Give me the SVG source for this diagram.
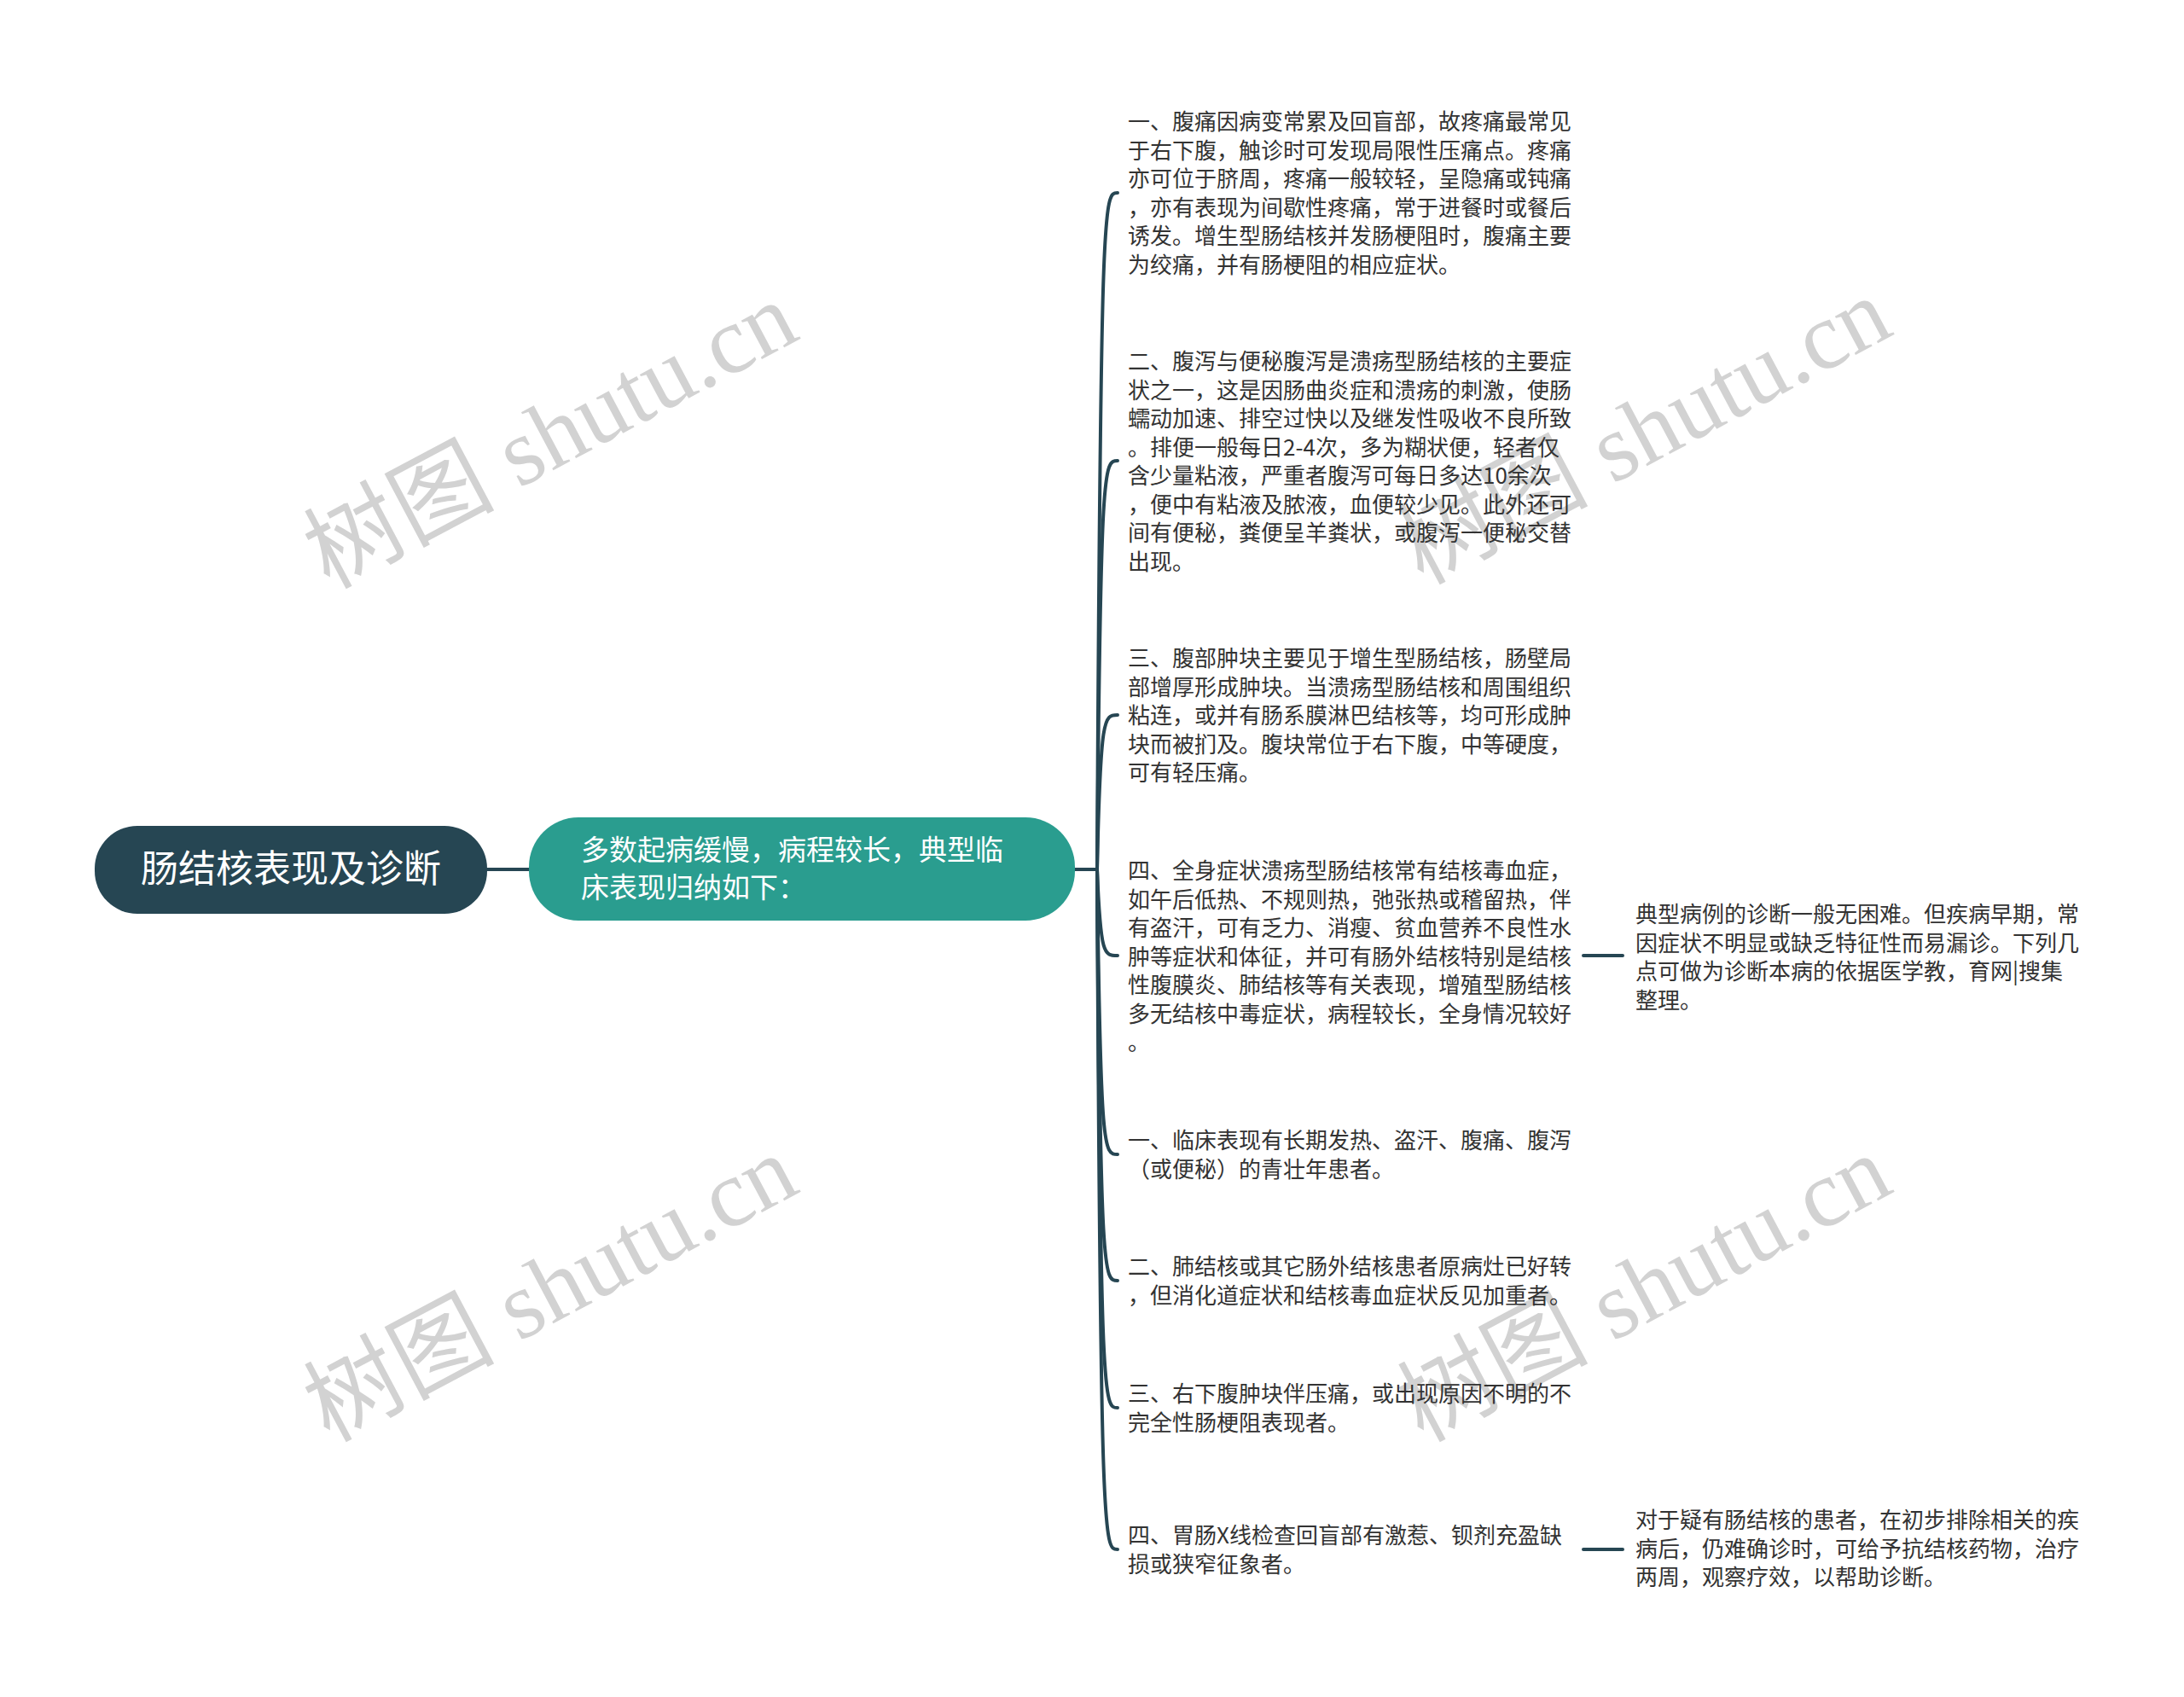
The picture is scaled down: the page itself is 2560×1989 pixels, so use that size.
<svg xmlns="http://www.w3.org/2000/svg" width="2560" height="1989" viewBox="0 0 2560 1989">
<style>
.wm{font-family:"Liberation Serif","Noto Sans CJK SC",serif;font-size:112px;fill:#d2d2d2;}
.leaf{font-family:"Noto Sans CJK SC","Noto Sans",sans-serif;font-size:26px;fill:#333333;}
.rootT{font-family:"Noto Sans CJK SC","Noto Sans",sans-serif;font-size:44px;fill:#ffffff;}
.subT{font-family:"Noto Sans CJK SC","Noto Sans",sans-serif;font-size:33px;fill:#ffffff;}
.ln{fill:none;stroke:#264653;stroke-width:4;stroke-linecap:round;}
</style>
<rect width="2560" height="1989" fill="#ffffff"/>
<g id="watermarks">
<text class="wm" transform="translate(645,510) rotate(-28)" text-anchor="middle" dominant-baseline="central">树图 shutu.cn</text>
<text class="wm" transform="translate(1927,505) rotate(-28)" text-anchor="middle" dominant-baseline="central">树图 shutu.cn</text>
<text class="wm" transform="translate(645,1510) rotate(-28)" text-anchor="middle" dominant-baseline="central">树图 shutu.cn</text>
<text class="wm" transform="translate(1927,1510) rotate(-28)" text-anchor="middle" dominant-baseline="central">树图 shutu.cn</text>
</g>
<g id="connectors">
<path class="ln" d="M571,1019 H620"/>
<path class="ln" d="M1260,1019 H1286"/>
<path class="ln" d="M1286,1019 C1290,226 1294,226 1310,226"/>
<path class="ln" d="M1286,1019 C1290,540 1294,540 1310,540"/>
<path class="ln" d="M1286,1019 C1290,838 1294,838 1310,838"/>
<path class="ln" d="M1286,1019 C1290,1120 1294,1120 1310,1120"/>
<path class="ln" d="M1286,1019 C1290,1353 1294,1353 1310,1353"/>
<path class="ln" d="M1286,1019 C1290,1501 1294,1501 1310,1501"/>
<path class="ln" d="M1286,1019 C1290,1650 1294,1650 1310,1650"/>
<path class="ln" d="M1286,1019 C1290,1816 1294,1816 1310,1816"/>
<path class="ln" d="M1856,1120 H1902"/>
<path class="ln" d="M1856,1816 H1902"/>
</g>
<g id="root">
<rect x="111" y="968" width="460" height="103" rx="50" fill="#264653"/>
<text class="rootT" x="341" y="1034" text-anchor="middle">肠结核表现及诊断</text>
</g>
<g id="sub">
<rect x="620" y="958" width="640" height="121" rx="58" fill="#2a9d8f"/>
<text class="subT"><tspan x="681" y="1008">多数起病缓慢，病程较长，典型临</tspan><tspan x="681" y="1052">床表现归纳如下：</tspan></text>
</g>
<g id="leaf1">
<text class="leaf"><tspan x="1322" y="152">一、腹痛因病变常累及回盲部，故疼痛最常见</tspan><tspan x="1322" y="185.5">于右下腹，触诊时可发现局限性压痛点。疼痛</tspan><tspan x="1322" y="219">亦可位于脐周，疼痛一般较轻，呈隐痛或钝痛</tspan><tspan x="1322" y="252.5">，亦有表现为间歇性疼痛，常于进餐时或餐后</tspan><tspan x="1322" y="286">诱发。增生型肠结核并发肠梗阻时，腹痛主要</tspan><tspan x="1322" y="319.5">为绞痛，并有肠梗阻的相应症状。</tspan></text>
</g>
<g id="leaf2">
<text class="leaf"><tspan x="1322" y="433">二、腹泻与便秘腹泻是溃疡型肠结核的主要症</tspan><tspan x="1322" y="466.5">状之一，这是因肠曲炎症和溃疡的刺激，使肠</tspan><tspan x="1322" y="500">蠕动加速、排空过快以及继发性吸收不良所致</tspan><tspan x="1322" y="533.5">。排便一般每日2-4次，多为糊状便，轻者仅</tspan><tspan x="1322" y="567">含少量粘液，严重者腹泻可每日多达10余次</tspan><tspan x="1322" y="600.5">，便中有粘液及脓液，血便较少见。此外还可</tspan><tspan x="1322" y="634">间有便秘，粪便呈羊粪状，或腹泻一便秘交替</tspan><tspan x="1322" y="667.5">出现。</tspan></text>
</g>
<g id="leaf3">
<text class="leaf"><tspan x="1322" y="781">三、腹部肿块主要见于增生型肠结核，肠壁局</tspan><tspan x="1322" y="814.5">部增厚形成肿块。当溃疡型肠结核和周围组织</tspan><tspan x="1322" y="848">粘连，或并有肠系膜淋巴结核等，均可形成肿</tspan><tspan x="1322" y="881.5">块而被扪及。腹块常位于右下腹，中等硬度，</tspan><tspan x="1322" y="915">可有轻压痛。</tspan></text>
</g>
<g id="leaf4">
<text class="leaf"><tspan x="1322" y="1030">四、全身症状溃疡型肠结核常有结核毒血症，</tspan><tspan x="1322" y="1063.5">如午后低热、不规则热，弛张热或稽留热，伴</tspan><tspan x="1322" y="1097">有盗汗，可有乏力、消瘦、贫血营养不良性水</tspan><tspan x="1322" y="1130.5">肿等症状和体征，并可有肠外结核特别是结核</tspan><tspan x="1322" y="1164">性腹膜炎、肺结核等有关表现，增殖型肠结核</tspan><tspan x="1322" y="1197.5">多无结核中毒症状，病程较长，全身情况较好</tspan><tspan x="1322" y="1231">。</tspan></text>
</g>
<g id="leaf4child">
<text class="leaf"><tspan x="1917" y="1081">典型病例的诊断一般无困难。但疾病早期，常</tspan><tspan x="1917" y="1114.5">因症状不明显或缺乏特征性而易漏诊。下列几</tspan><tspan x="1917" y="1148">点可做为诊断本病的依据医学教，育网|搜集</tspan><tspan x="1917" y="1181.5">整理。</tspan></text>
</g>
<g id="leaf5">
<text class="leaf"><tspan x="1322" y="1346">一、临床表现有长期发热、盗汗、腹痛、腹泻</tspan><tspan x="1322" y="1379.5">（或便秘）的青壮年患者。</tspan></text>
</g>
<g id="leaf6">
<text class="leaf"><tspan x="1322" y="1494">二、肺结核或其它肠外结核患者原病灶已好转</tspan><tspan x="1322" y="1527.5">，但消化道症状和结核毒血症状反见加重者。</tspan></text>
</g>
<g id="leaf7">
<text class="leaf"><tspan x="1322" y="1643">三、右下腹肿块伴压痛，或出现原因不明的不</tspan><tspan x="1322" y="1676.5">完全性肠梗阻表现者。</tspan></text>
</g>
<g id="leaf8">
<text class="leaf"><tspan x="1322" y="1809">四、胃肠X线检查回盲部有激惹、钡剂充盈缺</tspan><tspan x="1322" y="1842.5">损或狭窄征象者。</tspan></text>
</g>
<g id="leaf8child">
<text class="leaf"><tspan x="1917" y="1791">对于疑有肠结核的患者，在初步排除相关的疾</tspan><tspan x="1917" y="1824.5">病后，仍难确诊时，可给予抗结核药物，治疗</tspan><tspan x="1917" y="1858">两周，观察疗效，以帮助诊断。</tspan></text>
</g>
</svg>
